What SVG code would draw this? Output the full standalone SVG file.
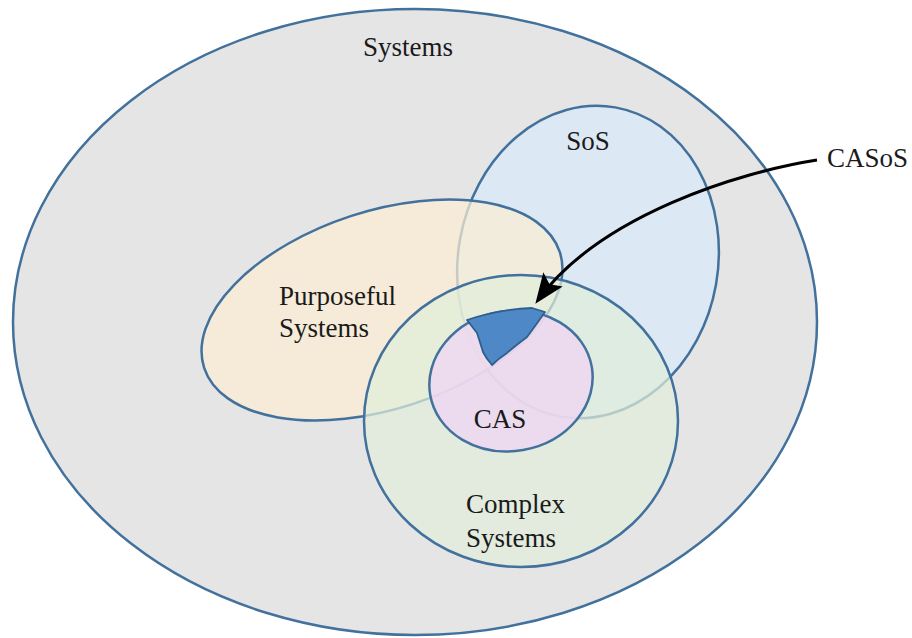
<svg xmlns="http://www.w3.org/2000/svg" width="912" height="638" viewBox="0 0 912 638">
  <defs>
    <style>
      .set { stroke: #41719c; stroke-width: 2.5; }
      .label { font-family: "Liberation Serif", "Times New Roman", serif; font-size: 27px; fill: #1a1a1a; }
      .mid { text-anchor: middle; }
    </style>
    <marker id="arrowhead" markerWidth="10" markerHeight="8" refX="8.5" refY="4" orient="auto" markerUnits="strokeWidth">
      <path d="M0,0 L10,4 L0,8 L2,4 Z" fill="#000"/>
    </marker>
  </defs>

  <rect width="912" height="638" fill="#ffffff"/>

  <g id="systems">
    <ellipse class="set" cx="415" cy="322" rx="402" ry="313" fill="#e5e5e5"/>
    <text class="label mid" x="408" y="56">Systems</text>
  </g>

  <g id="sos">
    <ellipse class="set" cx="588" cy="262" rx="130" ry="157" transform="rotate(10 588 262)" fill="#dce8f4"/>
    <text class="label mid" x="588" y="150">SoS</text>
  </g>

  <g id="purposeful-systems">
    <ellipse class="set" cx="382" cy="310" rx="187" ry="99" transform="rotate(-18 382 310)" fill="#fbedd2" fill-opacity="0.72"/>
    <text class="label" x="279" y="305">Purposeful</text>
    <text class="label" x="279" y="337">Systems</text>
  </g>

  <g id="complex-systems">
    <ellipse class="set" cx="521" cy="421" rx="157" ry="146" fill="#e1edda" fill-opacity="0.72"/>
    <text class="label" x="466" y="513">Complex</text>
    <text class="label" x="466" y="547">Systems</text>
  </g>

  <g id="cas">
    <ellipse class="set" cx="511" cy="381" rx="82" ry="70" transform="rotate(-10 511 381)" fill="#efd6f2" fill-opacity="0.8"/>
    <text class="label mid" x="500" y="428">CAS</text>
  </g>

  <g id="casos">
    <path d="M467,320 Q500,309 532,308 L545,312 Q536,325 527,337 Q515,346 507,353 Q498,359 492,365 Q486,358 483,352 Q480,342 477,333 Z" fill="#4f88c6" stroke="#2f5f8e" stroke-width="1.8" stroke-linejoin="round"/>
    <text class="label" x="827" y="167">CASoS</text>
  </g>

  <g id="connectors">
    <path d="M817,160 C740,172 600,215 538,300" fill="none" stroke="#000" stroke-width="3" marker-end="url(#arrowhead)"/>
  </g>
</svg>
